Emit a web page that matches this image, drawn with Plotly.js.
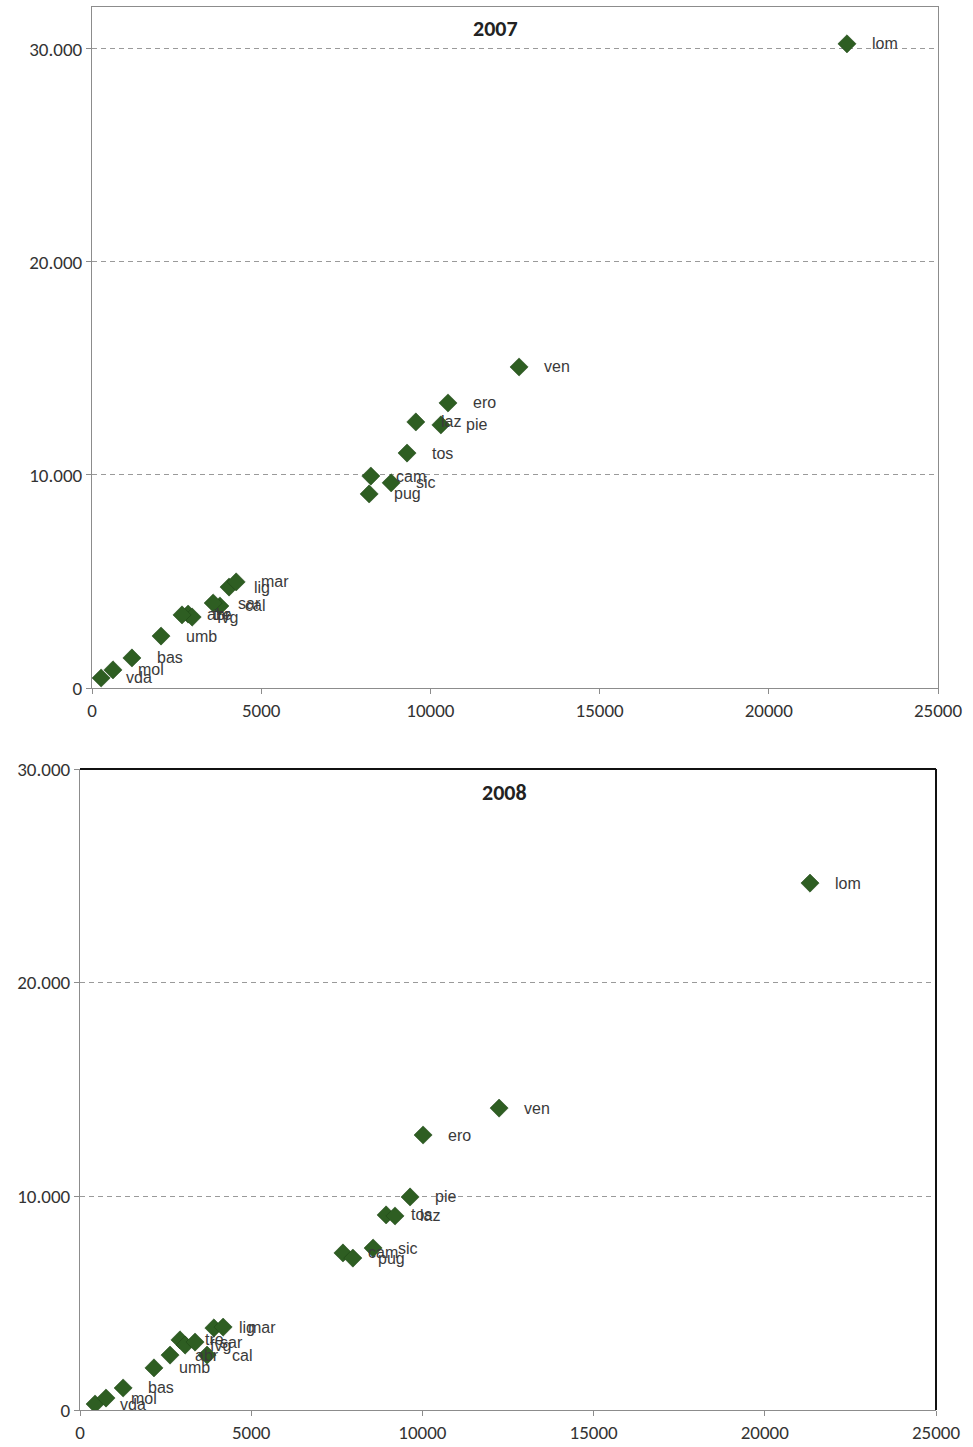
<!DOCTYPE html>
<html>
<head>
<meta charset="utf-8">
<script src="https://cdn.plot.ly/plotly-3.0.1.min.js"></script>
<style>html,body{margin:0;padding:0;background:#fff;}#chart{width:973px;height:1447px;}</style>
</head>
<body>
<div id="chart"></div>
<script>
// ---- data ----
const regions = ['pie','vda','lom','tre','ven','fvg','lig','ero','tos','umb','mar','laz','abr','mol','cam','pug','bas','cal','sic','sar'];
const x2007 = [10310, 270, 22310, 2840, 12620, 2960, 4050, 10520, 9310, 2040, 4260, 9570, 2660, 620, 8240, 8190, 1180, 3780, 8840, 3580];
const y2007 = [12350, 470, 30240, 3470, 15070, 3330, 4740, 13380, 11030, 2440, 4980, 12490, 3430, 850, 9950, 9110, 1410, 3850, 9630, 3990];
const x2008 = [9640, 440, 21320, 2920, 12240, 3070, 3910, 10020, 8940, 2160, 4180, 9200, 2630, 760, 7680, 7970, 1260, 3710, 8560, 3360];
const y2008 = [9970, 280, 24660, 3280, 14130, 3040, 3840, 12870, 9130, 1970, 3880, 9080, 2570, 560, 7350, 7110, 1030, 2570, 7580, 3180];
const titles = ['2007', '2008'];
const xTickVals = [0, 5000, 10000, 15000, 20000, 25000];
const xTickText = ['0', '5000', '10000', '15000', '20000', '25000'];
const yTickVals = [0, 10000, 20000, 30000];
const yTickText = ['0', '10.000', '20.000', '30.000'];

// ---- styles ----
const W = 973, H = 1447;
const green = '#2e5e22';
const tickFont = {family: "Carlito, 'Liberation Sans Narrow', 'Liberation Sans', sans-serif", size: 19, color: '#333'};
const labelFont = {family: "'Liberation Sans', Arial, sans-serif", size: 16, color: '#3a3a3a'};

function px(a, b) { return [a / W, b / W]; }
function py(top, bottom) { return [(H - bottom) / H, (H - top) / H]; }

const traces = [
  {x: x2007, y: y2007, text: regions, xaxis: 'x', yaxis: 'y', type: 'scatter', mode: 'markers',
   marker: {symbol: 'diamond', size: 14, color: green, line: {width: 0.5, color: '#1f4416'}}, hoverinfo: 'text'},
  {x: x2008, y: y2008, text: regions, xaxis: 'x2', yaxis: 'y2', type: 'scatter', mode: 'markers',
   marker: {symbol: 'diamond', size: 14, color: green, line: {width: 0.5, color: '#1f4416'}}, hoverinfo: 'text'}
];

const annotations = [];
[[x2007, y2007, 'x', 'y'], [x2008, y2008, 'x2', 'y2']].forEach(([xs, ys, xr, yr]) => {
  regions.forEach((r, i) => {
    annotations.push({x: xs[i], y: ys[i], xref: xr, yref: yr, text: r, showarrow: false,
      xanchor: 'left', yanchor: 'middle', xshift: 23, font: labelFont});
  });
});
annotations.push({text: '<b>' + titles[0] + '</b>', xref: 'paper', yref: 'paper', x: 495 / W, y: (H - 28) / H,
  showarrow: false, xanchor: 'center', yanchor: 'middle', font: {family: tickFont.family, size: 22, color: '#222'}});
annotations.push({text: '<b>' + titles[1] + '</b>', xref: 'paper', yref: 'paper', x: 505 / W, y: (H - 792) / H,
  showarrow: false, xanchor: 'center', yanchor: 'middle', font: {family: tickFont.family, size: 22, color: '#222'}});

function xAxis(domain, anchor, mirror) {
  return {domain: domain, anchor: anchor, range: [0, 25000], tickvals: xTickVals, ticktext: xTickText,
    showgrid: false, zeroline: false, showline: true, linecolor: '#8c8c8c', linewidth: 1, mirror: mirror,
    ticks: 'outside', ticklen: 5, tickcolor: '#8c8c8c', tickfont: tickFont, fixedrange: true};
}
function yAxis(domain, anchor, range, mirror) {
  return {domain: domain, anchor: anchor, range: range, tickvals: yTickVals, ticktext: yTickText,
    showgrid: true, gridcolor: '#9a9a9a', griddash: '5px,4px', gridwidth: 1, zeroline: false,
    showline: true, linecolor: '#8c8c8c', linewidth: 1, mirror: mirror,
    ticks: 'outside', ticklen: 5, tickcolor: '#8c8c8c', tickfont: tickFont, fixedrange: true};
}

const layout = {
  width: W, height: H, margin: {l: 0, r: 0, t: 0, b: 0}, showlegend: false,
  paper_bgcolor: '#fff', plot_bgcolor: '#fff',
  xaxis: xAxis(px(92, 938), 'y', true),
  yaxis: yAxis(py(7, 688), 'x', [0, 31970], true),
  xaxis2: xAxis(px(80, 936), 'y2', false),
  yaxis2: yAxis(py(769, 1410), 'x2', [0, 30000], false),
  annotations: annotations,
  shapes: [
    {type: 'line', xref: 'x2 domain', yref: 'y2 domain', x0: 0, x1: 1, y0: 1, y1: 1, line: {color: '#111', width: 2}},
    {type: 'line', xref: 'x2 domain', yref: 'y2 domain', x0: 1, x1: 1, y0: 0, y1: 1, line: {color: '#111', width: 2}}
  ]
};

Plotly.newPlot('chart', traces, layout, {displayModeBar: false, staticPlot: true});
</script>
</body>
</html>
